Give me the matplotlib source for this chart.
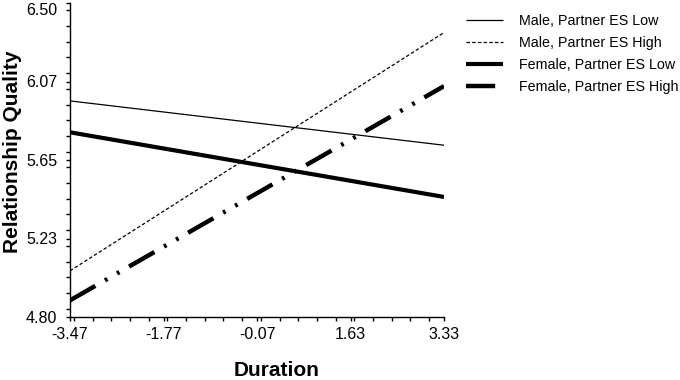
import numpy as np
import matplotlib
matplotlib.use("Agg")
import matplotlib.pyplot as plt
from matplotlib.ticker import MultipleLocator

plt.rcParams['font.family'] = ['Liberation Sans', 'DejaVu Sans']
plt.rcParams['lines.scale_dashes'] = False

# data
duration = [-3.47, 3.33]
male_low = [5.97, 5.73]
male_high = [5.05, 6.34]
female_low = [5.80, 5.45]
female_high = [4.89, 6.05]

series_labels = ['Male, Partner ES Low', 'Male, Partner ES High',
                 'Female, Partner ES Low', 'Female, Partner ES High']

xticks = [-3.47, -1.77, -0.07, 1.63, 3.33]
xticklabels = ['-3.47', '-1.77', '-0.07', '1.63', '3.33']
yticks = [4.80, 5.225, 5.65, 6.075, 6.50]
yticklabels = ['4.80', '5.23', '5.65', '6.07', '6.50']

fig = plt.figure(figsize=(6.8, 3.8), dpi=100)
ax = fig.add_axes([70 / 680, 1 - 317 / 380, 374 / 680, 314 / 380])

ax.plot(duration, male_low, color='black', lw=0.9, solid_capstyle='butt',
        label=series_labels[0])
ax.plot(duration, male_high, color='black', lw=0.9, linestyle=(0, (2.5, 1.6)),
        label=series_labels[1])
ax.plot(duration, female_low, color='black', lw=3.0, solid_capstyle='butt',
        label=series_labels[2])
ax.plot(duration, female_high, color='black', lw=3.2, dash_capstyle='butt',
        linestyle=(0, (21, 8, 2, 8, 2, 8)), label=series_labels[3])

ax.set_xlim(duration[0], duration[1])
ax.set_ylim(yticks[0], yticks[-1])
ax.set_xticks(xticks)
ax.set_xticklabels(xticklabels)
ax.set_yticks(yticks)
ax.set_yticklabels(yticklabels)
ax.get_yticklabels()[-1].set_va('top')
ax.xaxis.set_minor_locator(MultipleLocator(0.34))
ax.yaxis.set_minor_locator(MultipleLocator(0.085))

for s in ['top', 'right']:
    ax.spines[s].set_visible(False)
for s in ['left', 'bottom']:
    ax.spines[s].set_linewidth(1.0)
ax.tick_params(which='both', direction='out', length=3, width=1.0, labelsize=11.5)
ax.tick_params(axis='x', pad=4)
ax.tick_params(axis='y', pad=6)

ax.set_xlabel('Duration', fontsize=15, fontweight='bold')
ax.set_ylabel('Relationship Quality', fontsize=15, fontweight='bold')
ax.xaxis.set_label_coords(0.553, -0.14)
ax.yaxis.set_label_coords(-0.128, 0.525)

handles, labels = ax.get_legend_handles_labels()
fig.legend(handles, labels, loc='upper left', bbox_to_anchor=(466 / 680, 1 - 14 / 380),
           frameon=False, fontsize=10.3, handlelength=2.6, handletextpad=1.1,
           labelspacing=0.55, borderpad=0, borderaxespad=0)

fig.savefig('out.png', dpi=100)
